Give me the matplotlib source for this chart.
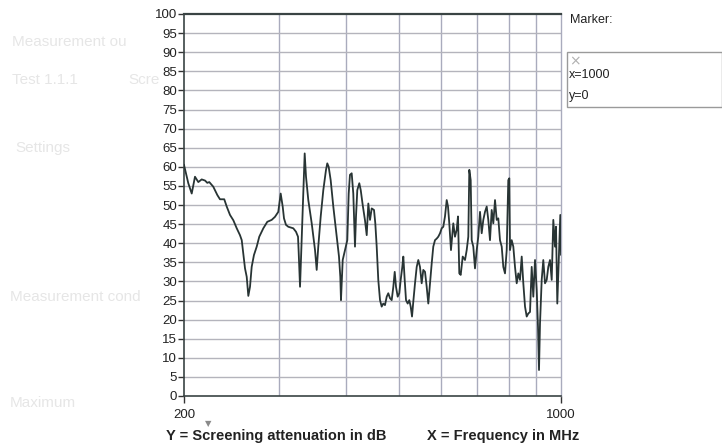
import numpy as np
import matplotlib
matplotlib.use("Agg")
import matplotlib.pyplot as plt
from matplotlib.patches import Rectangle
from matplotlib.ticker import FixedLocator, NullLocator

# screening attenuation trace (MHz, dB)
freq_mhz = [
    200.0, 203.7, 206.7, 209.6, 212.6, 215.7, 218.8, 220.9, 222.8, 226.6,
    230.6, 233.2, 237.5, 240.0, 243.4, 246.9, 250.5, 254.0, 255.9, 257.6,
    259.5, 261.4, 263.2, 265.1, 267.0, 269.6, 272.8, 275.8, 280.6, 285.4,
    290.8, 294.9, 299.1, 302.2, 304.8, 306.5, 309.1, 312.2, 315.4, 318.9,
    322.6, 325.4, 326.4, 328.2, 330.0, 332.0, 334.8, 336.7, 340.0, 345.0,
    349.9, 352.4, 354.8, 358.5, 362.5, 366.7, 368.7, 370.9, 374.1, 378.3,
    383.8, 387.6, 389.8, 390.9, 393.8, 397.7, 401.6, 404.0, 406.2, 409.2,
    412.0, 415.0, 416.8, 419.1, 422.7, 425.3, 428.9, 433.1, 436.3, 439.3,
    442.5, 445.7, 450.1, 452.6, 455.3, 458.4, 461.8, 465.1, 468.3, 471.7,
    475.2, 478.4, 481.9, 485.4, 488.8, 491.7, 494.4, 498.0, 501.4, 504.4,
    507.9, 510.1, 513.1, 516.0, 519.7, 523.3, 526.4, 529.4, 532.3, 536.2,
    540.1, 543.8, 547.7, 551.7, 555.5, 559.6, 563.6, 567.5, 571.6, 575.8,
    579.7, 584.0, 588.2, 592.2, 596.6, 600.9, 605.0, 609.4, 613.9, 617.3,
    620.7, 625.2, 631.4, 636.0, 640.6, 644.2, 647.8, 651.7, 657.3, 663.8,
    668.6, 673.2, 676.1, 680.1, 683.0, 687.7, 692.7, 697.8, 702.5, 707.7,
    712.8, 717.7, 722.9, 728.2, 733.2, 738.5, 743.9, 749.0, 754.5, 760.0,
    765.2, 770.7, 776.4, 781.7, 787.4, 793.1, 798.5, 802.0, 804.4, 810.2,
    815.8, 821.7, 827.7, 833.4, 839.4, 845.6, 851.4, 857.6, 863.8, 869.7,
    876.1, 882.4, 888.5, 895.0, 901.5, 906.5, 910.4, 914.3, 920.9, 927.2,
    934.0, 940.8, 947.2, 954.1, 961.1, 967.7, 974.7, 978.9, 984.3, 990.2,
    994.0, 997.0, 1000.0,
]
atten_db = [
    60.5, 55.7, 53.0, 57.4, 56.0, 56.7, 56.4, 55.8, 56.0, 54.8,
    52.6, 51.5, 51.5, 49.6, 47.4, 46.0, 43.9, 42.1, 40.8, 37.3,
    33.4, 31.2, 26.2, 28.6, 33.8, 36.9, 39.1, 41.7, 43.9, 45.6,
    46.1, 46.9, 48.2, 53.0, 49.6, 46.5, 44.8, 44.3, 44.1, 43.9,
    43.0, 41.7, 37.3, 28.6, 38.2, 49.6, 63.5, 57.4, 51.3, 45.2,
    38.2, 33.0, 39.1, 47.0, 53.9, 59.2, 60.9, 60.0, 56.5, 49.6,
    41.7, 36.5, 31.2, 25.1, 35.6, 38.2, 40.8, 53.0, 57.9, 58.3,
    53.0, 39.1, 47.0, 53.9, 55.7, 53.9, 50.0, 46.0, 42.1, 50.4,
    46.1, 49.1, 48.7, 45.2, 39.1, 30.4, 25.1, 23.4, 24.2, 23.8,
    26.0, 26.9, 25.6, 25.1, 28.6, 32.5, 28.6, 26.0, 26.9, 30.4,
    33.8, 36.5, 30.4, 25.1, 24.2, 25.1, 23.4, 20.8, 24.7, 29.5,
    33.8, 35.6, 33.8, 29.5, 33.0, 32.5, 28.6, 24.2, 29.5, 34.7,
    39.1, 40.8, 41.2, 41.7, 42.6, 43.9, 44.3, 47.0, 51.3, 49.6,
    45.2, 38.2, 45.2, 41.7, 43.5, 47.0, 32.1, 31.7, 36.5, 35.6,
    38.2, 41.7, 59.2, 56.5, 40.8, 39.1, 33.4, 38.2, 41.7, 48.2,
    42.6, 46.1, 48.2, 49.6, 46.1, 40.8, 48.7, 45.2, 51.3, 46.1,
    46.5, 40.8, 39.1, 33.8, 32.1, 38.2, 56.5, 57.0, 38.2, 40.8,
    39.1, 33.8, 29.5, 32.1, 30.4, 36.5, 29.5, 23.4, 20.8, 21.6,
    22.0, 33.8, 26.0, 35.6, 27.7, 18.1, 6.8, 19.0, 30.4, 35.6,
    29.5, 30.4, 33.8, 35.6, 30.4, 46.1, 39.1, 44.3, 24.2, 34.7,
    40.8, 47.4, 37.0,
]

y_ticks = list(range(0, 101, 5))
x_grid = [300, 400, 500, 600, 700, 800, 900]
x_ticks = [200, 1000]
x_label = "X = Frequency in MHz"
y_label = "Y = Screening attenuation in dB"
marker_lines = ["x=1000", "y=0"]

# faint text from the scanned page behind the chart
ghost_text = [
    (12, 42, "Measurement ou"),
    (12, 80, "Test 1.1.1"),
    (128, 80, "Scre"),
    (15, 148, "Settings"),
    (10, 297, "Measurement cond"),
    (10, 403, "Maximum"),
]

sans = ["Liberation Sans", "DejaVu Sans"]
W, H = 722, 443

fig = plt.figure(figsize=(7.22, 4.43), dpi=100)
fig.patch.set_facecolor("white")

for gx, gy, txt in ghost_text:
    fig.text(gx / W, 1 - gy / H, txt, fontsize=11, color="#e6e6e6",
             family=sans, va="center", ha="left")

ax = fig.add_axes([184 / W, 1 - 396 / H, (561 - 184) / W, (396 - 14) / H])
ax.set_facecolor("none")
ax.set_xscale("log")
ax.set_xlim(200, 1000)
ax.set_ylim(0, 100)

ax.xaxis.set_major_locator(FixedLocator(x_ticks))
ax.xaxis.set_minor_locator(NullLocator())
ax.set_xticklabels([str(v) for v in x_ticks])
ax.set_yticks(y_ticks)
ax.set_yticklabels([str(v) for v in y_ticks])

for v in x_grid:
    ax.axvline(v, color="#a9abbd", lw=1.0, zorder=1)
for v in y_ticks[1:-1]:
    ax.axhline(v, color="#b4b4bc", lw=1.0, zorder=1)

ax.plot(freq_mhz, atten_db, color="#283434", lw=1.3, zorder=3)

for side in ["left", "bottom", "top"]:
    ax.spines[side].set_color("#3a4444")
ax.spines["top"].set_linewidth(1.6)
ax.spines["left"].set_linewidth(1.2)
ax.spines["bottom"].set_linewidth(1.2)
ax.spines["right"].set_color("#a9abbd")
ax.spines["right"].set_linewidth(1.0)

ax.tick_params(axis="y", direction="out", length=4, width=1, color="#333333",
               labelsize=9.5, pad=1, labelcolor="#222222")
ax.tick_params(axis="x", direction="out", length=5, width=1, color="#333333",
               labelsize=9.5, pad=4, labelcolor="#222222")
for lab in ax.get_xticklabels() + ax.get_yticklabels():
    lab.set_family(sans)

fig.text(276 / W, 1 - 436 / H, y_label, fontsize=10.5, fontweight="bold",
         color="#222222", ha="center", va="center", family=sans)
fig.text(503 / W, 1 - 436 / H, x_label, fontsize=10.5, fontweight="bold",
         color="#222222", ha="center", va="center", family=sans)
fig.text(208 / W, 1 - 424 / H, "\u25bc", fontsize=6, color="#8a8a8a",
         ha="center", va="center")

# marker box on the right
fig.text(570 / W, 1 - 20 / H, "Marker:", fontsize=9, color="#222222",
         family=sans, ha="left", va="center")
fig.patches.append(Rectangle((567 / W, 1 - 107 / H), (W - 567) / W, 55 / H,
                             transform=fig.transFigure, fill=False,
                             edgecolor="#9a9a9a", lw=1.0))
fig.text(575 / W, 1 - 61 / H, "\u00d7", fontsize=10, color="#b0b0b0",
         ha="center", va="center")
for i, line in enumerate(marker_lines):
    fig.text(569 / W, 1 - (75 + 21 * i) / H, line, fontsize=9,
             color="#222222", family=sans, ha="left", va="center")

fig.savefig("out.png", dpi=100)
